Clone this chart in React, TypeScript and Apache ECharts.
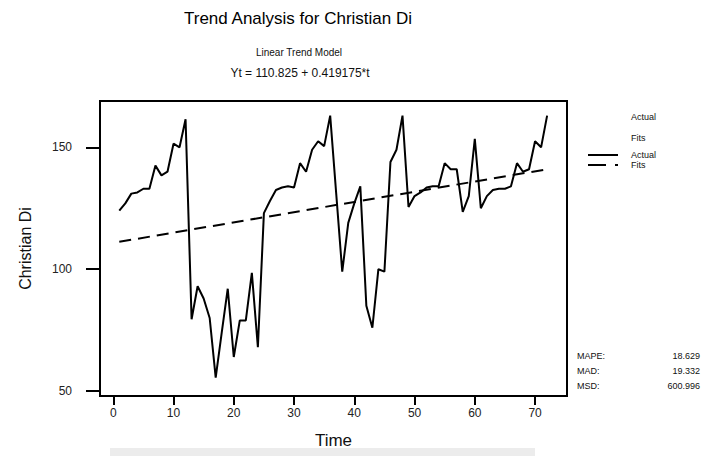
import React, { useEffect, useRef } from "react";
import * as echarts from "echarts";

// Period index (months) for the observed series
const timeIndex: number[] = [
  1, 2, 3, 4, 5, 6, 7, 8, 9, 10, 11, 12,
  13, 14, 15, 16, 17, 18, 19, 20, 21, 22, 23, 24,
  25, 26, 27, 28, 29, 30, 31, 32, 33, 34, 35, 36,
  37, 38, 39, 40, 41, 42, 43, 44, 45, 46, 47, 48,
  49, 50, 51, 52, 53, 54, 55, 56, 57, 58, 59, 60,
  61, 62, 63, 64, 65, 66, 67, 68, 69, 70, 71, 72,
];

// Observed values of Christian Di
const actualValues: number[] = [
  124, 127, 131, 131.5, 133, 133, 142.5, 138.5, 140, 151.5, 150, 161.5,
  79.5, 93, 88, 80, 55.5, 74, 92, 64, 79, 79, 98.5, 68,
  123, 128, 132.5, 133.5, 134, 133.5, 143.5, 140, 149, 152.5, 150.5, 163,
  131, 99, 119, 127, 134, 85, 76, 100, 99, 144, 149, 163,
  125.5, 130, 131.5, 133.5, 134, 134, 143.5, 141, 141, 123.5, 130, 153.5,
  125, 130, 132.5, 133, 133, 134, 143.5, 140, 141, 152.5, 150, 163,
];

// Fitted linear trend at the first and last period
const fitTimes: number[] = [1, 72];
const fitValues: number[] = [111.24, 141.01];

const xTickValues: number[] = [0, 10, 20, 30, 40, 50, 60, 70];
const yTickValues: number[] = [50, 100, 150];

const statNames: string[] = ["MAPE:", "MAD:", "MSD:"];
const statValues: string[] = ["18.629", "19.332", "600.996"];

const FONT = "Liberation Sans, Arial, sans-serif";

export default function App() {
  const ref = useRef<HTMLDivElement>(null);

  useEffect(() => {
    if (!ref.current) return;
    const chart = echarts.init(ref.current, null, { renderer: "svg" });

    const actualData = timeIndex.map((t, i) => [t, actualValues[i]]);
    const fitData = fitTimes.map((t, i) => [t, fitValues[i]]);

    const statTexts: any[] = [];
    statNames.forEach((name, i) => {
      statTexts.push({
        type: "text",
        x: 577,
        y: 356 + i * 15,
        style: { text: name, font: `9px ${FONT}`, fill: "#111", textVerticalAlign: "middle" },
      });
      statTexts.push({
        type: "text",
        x: 700,
        y: 356 + i * 15,
        style: {
          text: statValues[i],
          font: `9px ${FONT}`,
          fill: "#111",
          textAlign: "right",
          textVerticalAlign: "middle",
        },
      });
    });

    chart.setOption({
      animation: false,
      backgroundColor: "#ffffff",
      grid: {
        left: 100,
        top: 101,
        width: 467,
        height: 295,
        show: true,
        borderColor: "#000",
        borderWidth: 2,
        backgroundColor: "transparent",
        containLabel: false,
        outerBoundsMode: "none",
      },
      xAxis: {
        type: "value",
        min: -2.2,
        max: 75.3,
        name: "Time",
        nameLocation: "middle",
        nameGap: 36,
        nameTextStyle: { fontFamily: FONT, fontSize: 17, color: "#111" },
        axisLine: { show: true, onZero: false, lineStyle: { color: "#000", width: 2 } },
        axisTick: {
          show: true,
          length: 9,
          customValues: xTickValues,
          lineStyle: { color: "#000", width: 2 },
        },
        axisLabel: {
          customValues: xTickValues,
          margin: 11,
          fontFamily: FONT,
          fontSize: 12,
          color: "#222",
        },
        splitLine: { show: false },
      },
      yAxis: {
        type: "value",
        min: 48,
        max: 169,
        name: "Christian Di",
        nameLocation: "middle",
        nameGap: 67,
        nameTextStyle: { fontFamily: FONT, fontSize: 16, color: "#111" },
        axisLine: { show: true, onZero: false, lineStyle: { color: "#000", width: 2 } },
        axisTick: {
          show: true,
          length: 14,
          customValues: yTickValues,
          lineStyle: { color: "#000", width: 2 },
        },
        axisLabel: {
          customValues: yTickValues,
          margin: 28,
          fontFamily: FONT,
          fontSize: 12,
          color: "#222",
        },
        splitLine: { show: false },
      },
      series: [
        {
          name: "Actual",
          type: "line",
          data: actualData,
          showSymbol: false,
          lineStyle: { color: "#000", width: 2 },
          z: 3,
        },
        {
          name: "Fits",
          type: "line",
          data: fitData,
          showSymbol: false,
          lineStyle: { color: "#000", width: 2, type: [12, 7] },
          z: 2,
        },
      ],
      graphic: [
        {
          type: "text",
          x: 298,
          y: 18,
          style: {
            text: "Trend Analysis for Christian Di",
            font: `17px ${FONT}`,
            fill: "#000",
            textAlign: "center",
            textVerticalAlign: "middle",
          },
        },
        {
          type: "text",
          x: 299,
          y: 52,
          style: {
            text: "Linear Trend Model",
            font: `10px ${FONT}`,
            fill: "#111",
            textAlign: "center",
            textVerticalAlign: "middle",
          },
        },
        {
          type: "text",
          x: 300,
          y: 73,
          style: {
            text: "Yt = 110.825 + 0.419175*t",
            font: `12px ${FONT}`,
            fill: "#111",
            textAlign: "center",
            textVerticalAlign: "middle",
          },
        },
        // legend block
        {
          type: "text",
          x: 631,
          y: 117,
          style: { text: "Actual", font: `9px ${FONT}`, fill: "#111", textVerticalAlign: "middle" },
        },
        {
          type: "text",
          x: 631,
          y: 138,
          style: { text: "Fits", font: `9px ${FONT}`, fill: "#111", textVerticalAlign: "middle" },
        },
        {
          type: "line",
          shape: { x1: 588, y1: 155, x2: 618, y2: 155 },
          style: { stroke: "#000", lineWidth: 2 },
        },
        {
          type: "text",
          x: 631,
          y: 155,
          style: { text: "Actual", font: `9px ${FONT}`, fill: "#111", textVerticalAlign: "middle" },
        },
        {
          type: "line",
          shape: { x1: 588, y1: 165, x2: 618, y2: 165 },
          style: { stroke: "#000", lineWidth: 2, lineDash: [18, 9] },
        },
        {
          type: "text",
          x: 631,
          y: 165,
          style: { text: "Fits", font: `9px ${FONT}`, fill: "#111", textVerticalAlign: "middle" },
        },
        ...statTexts,
        {
          type: "rect",
          shape: { x: 110, y: 448, width: 425, height: 8 },
          style: { fill: "#ececec" },
          z: -1,
        },
      ],
    });

    return () => chart.dispose();
  }, []);

  return (
    <div
      ref={ref}
      style={{ position: "fixed", left: 0, top: 0, width: 712, height: 456, background: "#fff" }}
    />
  );
}
